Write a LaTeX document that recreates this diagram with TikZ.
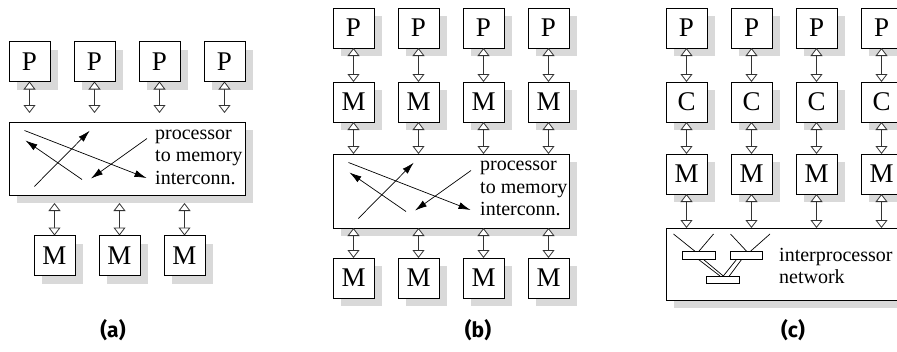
\documentclass[tikz,border=0pt]{standalone}
\usepackage{fontspec}
\setmainfont{Liberation Serif}
\newfontfamily\capfont{Fira Sans}
\usetikzlibrary{arrows.meta,shadows}
\begin{document}
\begin{tikzpicture}[x=1pt,y=-1pt,
  shadowed/.style={drop shadow={shadow xshift=8pt,shadow yshift=-8pt,fill=black!15,opacity=1}},
  unit/.style={shadowed,draw=black,fill=white,line width=0.9pt,minimum width=41pt,minimum height=40pt,
    inner sep=0pt,outer sep=0pt,font=\fontsize{27}{27}\selectfont},
  bigbox/.style={shadowed,draw=black,fill=white,line width=0.9pt,minimum width=236pt,
    inner sep=0pt,outer sep=0pt},
  lbl/.style={align=left,anchor=west,inner sep=0pt,font=\fontsize{20}{22.5}\selectfont},
  dbl/.style={{Triangle[open,fill=white,length=8pt,width=12pt]}-{Triangle[open,fill=white,length=8pt,width=12pt]},
    line width=0.8pt,draw=black!80},
  xarr/.style={-{Latex[length=12pt,width=7pt]},line width=0.7pt},
  netbar/.style={draw=black,fill=white,line width=0.7pt,minimum width=32.5pt,minimum height=7.6pt,inner sep=0pt,outer sep=0pt},
  captext/.style={font=\capfont\bfseries\fontsize{21}{21}\selectfont}]
\useasboundingbox (0,0) rectangle (897,351);
\clip (0,0) rectangle (897,351);
\fill[white] (0,0) rectangle (897,351);

% ---------- (a) ----------
\foreach \i/\x in {1/29.5,2/94.5,3/159.5,4/224.5}
  \node[unit] (pa\i) at (\x,61.5) {P};
\node[bigbox,minimum height=73pt] (ia) at (127,158.5) {};
\foreach \i/\x in {1/54.5,2/119.5,3/184.5}
  \node[unit] (ma\i) at (\x,255.5) {M};
\node[lbl] (ta) at (155,157) {processor\\to memory\\interconn.};
\foreach \i in {1,2,3,4}
  \draw[dbl,shorten >=9pt] (pa\i.south) -- (pa\i.south |- ia.north);
\foreach \i in {1,2,3}
  \draw[dbl,shorten <=8pt] (ma\i.north |- ia.south) -- (ma\i.north);
\begin{scope}[shift={(ia.north west)}]
  \draw[xarr] (15.5,8.5) -- (137.5,56);
  \draw[xarr] (73,57.5) -- (16.5,18.5);
  \draw[xarr] (25.3,64.5) -- (80.7,8.7);
  \draw[xarr] (138,16.5) -- (82,56.5);
\end{scope}

% ---------- (b) ----------
\foreach \i/\x in {1/353.5,2/418.5,3/483.5,4/548.5}{
  \node[unit] (pb\i) at (\x,28) {P};
  \node[unit] (mb\i) at (\x,102) {M};
  \node[unit] (nb\i) at (\x,278) {M};
}
\node[bigbox,minimum height=74pt] (ib) at (451,191) {};
\node[lbl] (tb) at (480,188.5) {processor\\to memory\\interconn.};
\foreach \i in {1,2,3,4}{
  \draw[dbl] (pb\i.south) -- (mb\i.north);
  \draw[dbl] (mb\i.south) -- (mb\i.south |- ib.north);
  \draw[dbl] (nb\i.north |- ib.south) -- (nb\i.north);
}
\begin{scope}[shift={(ib.north west)}]
  \draw[xarr] (15.5,8.5) -- (137.5,56);
  \draw[xarr] (73,57.5) -- (16.5,18.5);
  \draw[xarr] (25.3,64.5) -- (80.7,8.7);
  \draw[xarr] (138,16.5) -- (82,56.5);
\end{scope}

% ---------- (c) ----------
\foreach \i/\x in {1/686.5,2/751.5,3/816.5,4/881.5}{
  \node[unit] (pc\i) at (\x,28) {P};
  \node[unit] (cc\i) at (\x,102) {C};
  \node[unit] (mc\i) at (\x,174) {M};
}
\node[bigbox,minimum height=72pt] (ic) at (784,264) {};
\node[lbl,font=\fontsize{20}{22}\selectfont] (tc) at (779,266) {interprocessor\\network};
\foreach \i in {1,2,3,4}{
  \draw[dbl] (pc\i.south) -- (cc\i.north);
  \draw[dbl] (cc\i.south) -- (mc\i.north);
  \draw[dbl] (mc\i.south) -- (mc\i.south |- ic.north);
}
% network icon
\node[netbar] (nl) at (698.7,255.5) {};
\node[netbar] (nr) at (746.4,255.5) {};
\node[netbar] (nd) at (722.9,280) {};
\begin{scope}[line width=0.7pt]
  \draw (673.5,234) -- (695.5,251.7);
  \draw (713.5,234) -- (698.5,251.7);
  \draw (730.5,234) -- (747,251.7);
  \draw (770,234) -- (750,251.7);
  \draw (698.3,259.3) -- (720,276);
  \draw (703.3,259.3) -- (723.3,276);
  \draw (736.7,259.3) -- (723.3,276);
  \draw (741.7,259.3) -- (729.3,276);
\end{scope}

% ---------- captions ----------
\node[captext] (ca) at (113,330) {(a)};
\node[captext] (cb) at (478,330) {(b)};
\node[captext] (cc) at (793,330) {(c)};
\end{tikzpicture}
\end{document}
